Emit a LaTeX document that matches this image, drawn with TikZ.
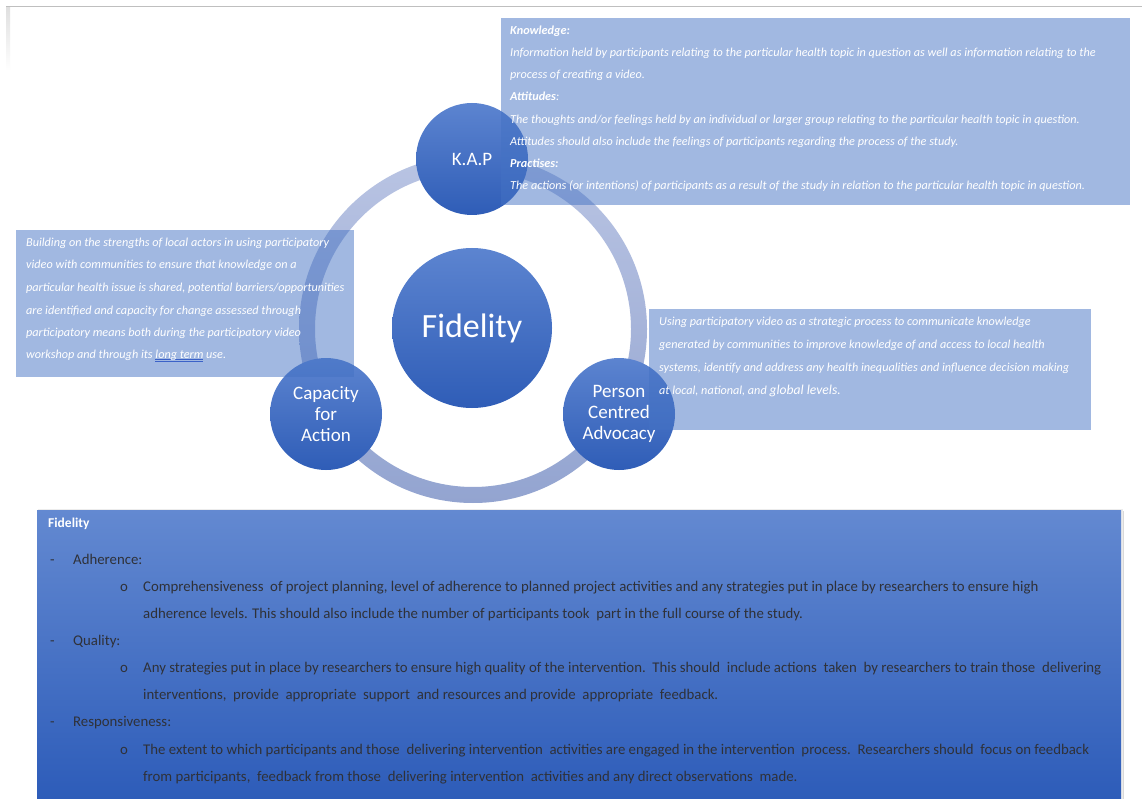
\documentclass[tikz,border=0pt]{standalone}
\usepackage{fontspec}
\setmainfont{Carlito}
\definecolor{boxblue}{HTML}{4472C4}
\definecolor{circtop}{HTML}{5C84D0}
\definecolor{circbot}{HTML}{2F5DB7}
\definecolor{ringtop}{HTML}{B9C4E3}
\definecolor{ringbot}{HTML}{93A4D0}
\definecolor{bigtop}{HTML}{6389D1}
\definecolor{bigbot}{HTML}{2D5CB9}
\definecolor{darktext}{HTML}{2F3138}
\definecolor{ulblue}{HTML}{3B62C8}
\newcommand\myblueul[1]{\setbox0\hbox{#1}\rlap{\color{ulblue}\rule[-1.8pt]{\wd0}{0.5pt}}\rlap{\color{ulblue}\rule[-3pt]{\wd0}{0.5pt}}\box0\relax}
\tikzset{
  circnode/.style={circle, minimum size=112pt, inner sep=0pt, top color=circtop, bottom color=circbot, text=white, align=center, font=\fontsize{19}{21}\selectfont},
  infobox/.style={fill=boxblue, fill opacity=0.5},
  wline/.style={anchor=base west, inner sep=0pt, text=white, font=\fontsize{12.2}{14}\selectfont\itshape},
  bline/.style={anchor=base west, inner sep=0pt, text=darktext, font=\fontsize{14.8}{17}\selectfont},
}
\begin{document}
\begin{tikzpicture}[x=1pt,y=-1pt]
\useasboundingbox (0,0) rectangle (1142,799);
\fill[white] (0,0) rectangle (1142,799);
% page edge
\shade[top color=gray!25, bottom color=white] (6,7) rectangle (10,70);
\draw[gray!50, line width=1.2pt] (6,6.5) -- (1142,6.5);

% ring
\shade[top color=ringtop, bottom color=ringbot, even odd rule]
  (473,329) circle[radius=174pt] (473,329) circle[radius=158pt];

% circles
\node[circnode, minimum size=160pt, font=\fontsize{34}{40}\selectfont] (fid) at (472,328) {Fidelity};
\node[circnode] (kap) at (472,159) {K.A.P};
\node[circnode] (cap) at (326,414) {Capacity\\for\\Action};
\node[circnode] (pca) at (619,414) {Person\\Centred\\Advocacy};

% info boxes
\fill[infobox] (501,18) rectangle (1130,205);
\fill[infobox] (16,230) rectangle (354,377);
\fill[infobox] (649,309) rectangle (1091,430);

% top-right text
\node[wline] (k1) at (510,35) {\bfseries Knowledge:};
\node[wline] (k2) at (510,57) {Information held by participants relating to the particular health topic in question as well as information relating to the};
\node[wline] (k3) at (510,79) {process of creating a video.};
\node[wline] (k4) at (510,101) {\textbf{Attitudes}:};
\node[wline] (k5) at (510,124) {The thoughts and/or feelings held by an individual or larger group relating to the particular health topic in question.};
\node[wline] (k6) at (510,146) {Attitudes should also include the feelings of participants regarding the process of the study.};
\node[wline] (k7) at (510,168) {\bfseries Practises:};
\node[wline] (k8) at (510,190) {The actions (or intentions) of participants as a result of the study in relation to the particular health topic in question.};

% left text
\node[wline] (l1) at (26,247) {Building on the strengths of local actors in using participatory};
\node[wline] (l2) at (26,269) {video with communities to ensure that knowledge on a};
\node[wline] (l3) at (26,292) {particular health issue is shared, potential barriers/opportunities};
\node[wline] (l4) at (26,314) {are identified and capacity for change assessed through};
\node[wline] (l5) at (26,336) {participatory means both during the participatory video};
\node[wline] (l6) at (26,358) {workshop and through its \myblueul{long term} use.};

% right text
\node[wline] (r1) at (659,326) {Using participatory video as a strategic process to communicate knowledge};
\node[wline] (r2) at (659,348) {generated by communities to improve knowledge of and access to local health};
\node[wline] (r3) at (659,371) {systems, identify and address any health inequalities and influence decision making};
\node[wline] (r4) at (659,394) {at local, national, and {\fontsize{13.6}{16}\selectfont global levels.}};

% bottom box
\fill[gray!30] (39,511) rectangle (1124,799);
\fill[gray!15] (38,509) rectangle (1123,799);
\shade[top color=bigtop, bottom color=bigbot] (37,510) rectangle (1121,799);

\node[bline, text=white, font=\fontsize{13.5}{16}\selectfont\bfseries] (b0) at (48,527) {Fidelity};
\node[bline] (d1) at (50,564.5) {-};
\node[bline] (b1) at (73,564.5) {Adherence:};
\node[bline] (o1) at (120,591.5) {o};
\node[bline] (b2) at (143,591.5) {Comprehensiveness\ \ of project planning,\ level of adherence to planned project activities and any strategies put in place by researchers to ensure high};
\node[bline] (b3) at (143,618.5) {adherence levels. This should also include the number of participants took\ \ part in the full course of the study.};
\node[bline] (d2) at (50,645.5) {-};
\node[bline] (b4) at (73,645.5) {Quality:};
\node[bline] (o2) at (120,672.5) {o};
\node[bline] (b5) at (143,672.5) {Any strategies put in place by researchers to ensure high quality of the intervention.\ \ This should\ \ include actions\ \ taken\ \ by researchers to train those\ \ delivering};
\node[bline] (b6) at (143,699.5) {interventions,\ \ provide\ \ appropriate\ \ support\ \ and resources and provide\ \ appropriate\ \ feedback.};
\node[bline] (d3) at (50,726.5) {-};
\node[bline] (b7) at (73,726.5) {Responsiveness:};
\node[bline] (o3) at (120,754) {o};
\node[bline] (b8) at (143,754) {The extent to which participants and those\ \ delivering intervention\ \ activities are engaged in the intervention\ \ process.\ \ Researchers should\ \ focus on feedback};
\node[bline] (b9) at (143,781) {from participants,\ \ feedback from those\ \ delivering intervention\ \ activities and any direct observations\ \ made.};
\end{tikzpicture}
\end{document}
